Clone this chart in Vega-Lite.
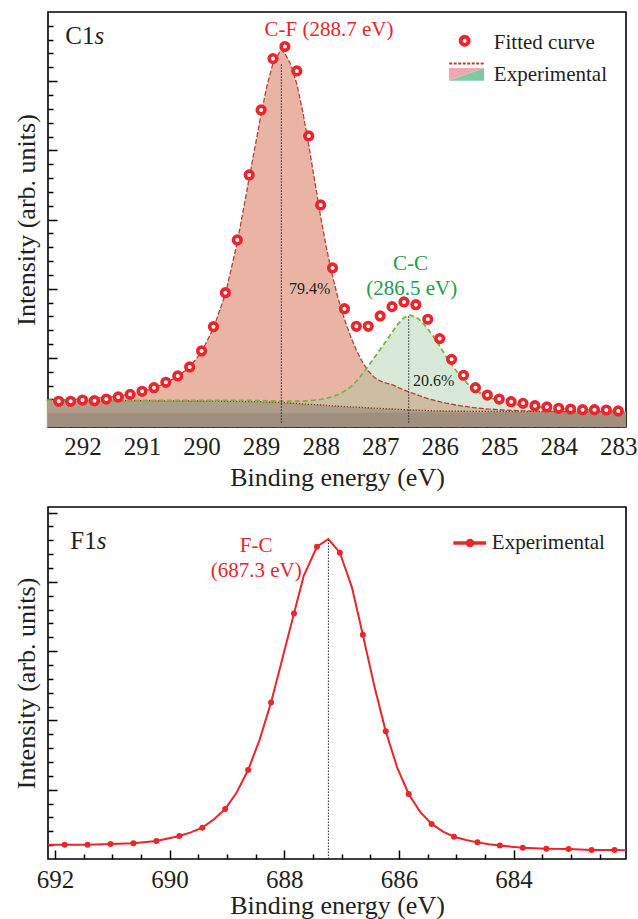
{
"$schema": "https://vega.github.io/schema/vega-lite/v6.json",
"padding": {"left": 12, "top": 11, "right": 0, "bottom": 0},
"spacing": 15,
"config": {
  "view": {"stroke": "#000", "strokeWidth": 1.6},
  "font": "Liberation Serif",
  "axis": {"domain": false, "grid": false, "tickColor": "#000", "tickWidth": 1.5, "labelFont": "Liberation Serif", "titleFont": "Liberation Serif", "labelColor": "#231f20", "titleColor": "#231f20", "titleFontWeight": "normal", "labelFlush": false, "labelOverlap": false},
  "text": {"font": "Liberation Serif"}
},
"datasets": {
  "c1s_points": [
    {"e":292.4,"i":1.86},{"e":292.2,"i":1.86},{"e":292.0,"i":1.95},{"e":291.8,"i":1.90},{"e":291.6,"i":2.02},{"e":291.4,"i":2.17},{"e":291.2,"i":2.36},{"e":291.0,"i":2.58},{"e":290.8,"i":2.84},{"e":290.6,"i":3.23},{"e":290.4,"i":3.69},{"e":290.2,"i":4.34},{"e":290.0,"i":5.50},{"e":289.8,"i":7.25},{"e":289.6,"i":9.71},{"e":289.4,"i":13.52},{"e":289.2,"i":18.22},{"e":289.0,"i":22.92},{"e":288.8,"i":26.63},{"e":288.6,"i":27.50},{"e":288.4,"i":25.74},{"e":288.2,"i":21.04},{"e":288.0,"i":16.05},{"e":287.8,"i":11.50},{"e":287.6,"i":8.55},{"e":287.4,"i":7.28},{"e":287.2,"i":7.28},{"e":287.0,"i":8.03},{"e":286.8,"i":8.70},{"e":286.6,"i":9.04},{"e":286.4,"i":8.84},{"e":286.2,"i":7.79},{"e":286.0,"i":6.39},{"e":285.8,"i":4.89},{"e":285.6,"i":3.74},{"e":285.4,"i":2.84},{"e":285.2,"i":2.31},{"e":285.0,"i":2.02},{"e":284.8,"i":1.83},{"e":284.6,"i":1.71},{"e":284.4,"i":1.54},{"e":284.2,"i":1.45},{"e":284.0,"i":1.35},{"e":283.8,"i":1.30},{"e":283.6,"i":1.25},{"e":283.4,"i":1.25},{"e":283.2,"i":1.23},{"e":283.0,"i":1.16}
  ],
  "c1s_comp": [
    {"e":292.6,"bg":1.92,"cf":1.94,"cc":1.94},{"e":292.4,"bg":1.92,"cf":1.96,"cc":1.94},{"e":292.2,"bg":1.91,"cf":1.99,"cc":1.93},{"e":292.0,"bg":1.91,"cf":2.03,"cc":1.93},{"e":291.8,"bg":1.91,"cf":2.08,"cc":1.93},{"e":291.6,"bg":1.90,"cf":2.15,"cc":1.93},{"e":291.4,"bg":1.90,"cf":2.25,"cc":1.93},{"e":291.2,"bg":1.90,"cf":2.38,"cc":1.93},{"e":291.0,"bg":1.90,"cf":2.56,"cc":1.93},{"e":290.8,"bg":1.90,"cf":2.82,"cc":1.93},{"e":290.6,"bg":1.89,"cf":3.18,"cc":1.93},{"e":290.4,"bg":1.89,"cf":3.66,"cc":1.93},{"e":290.2,"bg":1.88,"cf":4.32,"cc":1.93},{"e":290.0,"bg":1.88,"cf":5.42,"cc":1.93},{"e":289.8,"bg":1.87,"cf":7.15,"cc":1.93},{"e":289.6,"bg":1.86,"cf":9.6,"cc":1.93},{"e":289.4,"bg":1.85,"cf":13.35,"cc":1.93},{"e":289.2,"bg":1.84,"cf":18.0,"cc":1.92},{"e":289.0,"bg":1.83,"cf":22.6,"cc":1.90},{"e":288.9,"bg":1.81,"cf":24.7,"cc":1.89},{"e":288.8,"bg":1.80,"cf":26.3,"cc":1.88},{"e":288.66,"bg":1.77,"cf":27.3,"cc":1.87},{"e":288.6,"bg":1.76,"cf":27.0,"cc":1.86},{"e":288.5,"bg":1.73,"cf":26.2,"cc":1.86},{"e":288.4,"bg":1.70,"cf":24.8,"cc":1.86},{"e":288.3,"bg":1.67,"cf":22.8,"cc":1.87},{"e":288.2,"bg":1.64,"cf":20.4,"cc":1.90},{"e":288.1,"bg":1.62,"cf":17.8,"cc":1.94},{"e":288.0,"bg":1.59,"cf":15.2,"cc":2.00},{"e":287.9,"bg":1.56,"cf":12.9,"cc":2.08},{"e":287.8,"bg":1.53,"cf":10.9,"cc":2.20},{"e":287.7,"bg":1.50,"cf":9.2,"cc":2.36},{"e":287.6,"bg":1.48,"cf":7.8,"cc":2.58},{"e":287.5,"bg":1.45,"cf":6.6,"cc":2.88},{"e":287.4,"bg":1.43,"cf":5.55,"cc":3.30},{"e":287.3,"bg":1.41,"cf":4.7,"cc":3.82},{"e":287.2,"bg":1.39,"cf":4.05,"cc":4.40},{"e":287.1,"bg":1.36,"cf":3.6,"cc":5.00},{"e":287.0,"bg":1.34,"cf":3.33,"cc":5.60},{"e":286.9,"bg":1.32,"cf":3.18,"cc":6.20},{"e":286.8,"bg":1.30,"cf":3.06,"cc":6.85},{"e":286.7,"bg":1.28,"cf":2.87,"cc":7.45},{"e":286.6,"bg":1.25,"cf":2.68,"cc":7.90},{"e":286.5,"bg":1.23,"cf":2.51,"cc":8.08},{"e":286.4,"bg":1.22,"cf":2.36,"cc":7.95},{"e":286.3,"bg":1.20,"cf":2.20,"cc":7.60},{"e":286.2,"bg":1.19,"cf":2.06,"cc":7.10},{"e":286.1,"bg":1.17,"cf":1.94,"cc":6.50},{"e":286.0,"bg":1.16,"cf":1.83,"cc":5.85},{"e":285.9,"bg":1.15,"cf":1.73,"cc":5.15},{"e":285.8,"bg":1.15,"cf":1.65,"cc":4.50},{"e":285.7,"bg":1.14,"cf":1.57,"cc":3.95},{"e":285.6,"bg":1.14,"cf":1.51,"cc":3.45},{"e":285.5,"bg":1.13,"cf":1.45,"cc":3.00},{"e":285.4,"bg":1.13,"cf":1.39,"cc":2.66},{"e":285.2,"bg":1.12,"cf":1.31,"cc":2.17},{"e":285.0,"bg":1.12,"cf":1.25,"cc":1.88},{"e":284.8,"bg":1.12,"cf":1.20,"cc":1.70},{"e":284.6,"bg":1.11,"cf":1.17,"cc":1.57},{"e":284.4,"bg":1.11,"cf":1.15,"cc":1.47},{"e":284.2,"bg":1.11,"cf":1.13,"cc":1.40},{"e":284.0,"bg":1.11,"cf":1.12,"cc":1.34},{"e":283.8,"bg":1.11,"cf":1.12,"cc":1.30},{"e":283.6,"bg":1.11,"cf":1.11,"cc":1.26},{"e":283.4,"bg":1.11,"cf":1.11,"cc":1.23},{"e":283.2,"bg":1.11,"cf":1.11,"cc":1.20},{"e":283.0,"bg":1.11,"cf":1.11,"cc":1.17},{"e":282.87,"bg":1.11,"cf":1.11,"cc":1.16}
  ],
  "f1s_points": [
    {"e":691.83,"i":1.03},{"e":691.43,"i":1.03},{"e":691.03,"i":1.08},{"e":690.63,"i":1.13},{"e":690.23,"i":1.30},{"e":689.83,"i":1.66},{"e":689.43,"i":2.26},{"e":689.03,"i":3.61},{"e":688.63,"i":6.42},{"e":688.23,"i":11.30},{"e":687.83,"i":17.72},{"e":687.43,"i":22.53},{"e":687.03,"i":22.10},{"e":686.63,"i":16.18},{"e":686.23,"i":9.21},{"e":685.83,"i":4.69},{"e":685.43,"i":2.53},{"e":685.04,"i":1.61},{"e":684.63,"i":1.20},{"e":684.24,"i":0.98},{"e":683.84,"i":0.82},{"e":683.43,"i":0.74},{"e":683.04,"i":0.72},{"e":682.64,"i":0.65},{"e":682.24,"i":0.65}
  ],
  "f1s_line": [
    {"e":692.12,"i":1.03},{"e":691.83,"i":1.03},{"e":691.43,"i":1.03},{"e":691.03,"i":1.08},{"e":690.63,"i":1.13},{"e":690.23,"i":1.30},{"e":689.83,"i":1.66},{"e":689.63,"i":1.92},{"e":689.43,"i":2.26},{"e":689.23,"i":2.85},{"e":689.03,"i":3.61},{"e":688.83,"i":4.8},{"e":688.63,"i":6.42},{"e":688.43,"i":8.6},{"e":688.23,"i":11.30},{"e":688.03,"i":14.5},{"e":687.83,"i":17.72},{"e":687.66,"i":20.44},{"e":687.43,"i":22.53},{"e":687.23,"i":23.09},{"e":687.03,"i":22.10},{"e":686.82,"i":19.6},{"e":686.63,"i":16.18},{"e":686.43,"i":12.5},{"e":686.23,"i":9.21},{"e":686.03,"i":6.6},{"e":685.83,"i":4.69},{"e":685.63,"i":3.40},{"e":685.43,"i":2.53},{"e":685.23,"i":1.97},{"e":685.04,"i":1.61},{"e":684.83,"i":1.37},{"e":684.63,"i":1.20},{"e":684.43,"i":1.07},{"e":684.24,"i":0.98},{"e":684.04,"i":0.89},{"e":683.84,"i":0.82},{"e":683.43,"i":0.74},{"e":683.04,"i":0.72},{"e":682.64,"i":0.65},{"e":682.24,"i":0.65},{"e":682.04,"i":0.64}
  ]
},
"vconcat": [
  {
    "width": 578, "height": 415,
    "resolve": {"axis": {"x": "independent", "y": "independent"}},
    "layer": [
      {"data": {"name": "c1s_comp"}, "mark": {"type": "area", "color": "#ad9e8b", "opacity": 1},
       "encoding": {
         "x": {"field": "e", "type": "quantitative", "scale": {"domain": [292.58, 282.87], "nice": false, "zero": false},
               "axis": {"orient": "bottom", "values": [292,291,290,289,288,287,286,285,284,283], "tickSize": -9, "labelFont": "Liberation Serif", "labelFontSize": 25, "labelPadding": 16, "title": "Binding energy (eV)", "titleFont": "Liberation Serif", "titleFontSize": 26, "titleFontWeight": "normal", "titlePadding": 5}},
         "y": {"field": "bg", "type": "quantitative", "scale": {"domain": [0, 30], "nice": false},
               "axis": {"orient": "left", "values": [5,10,15,20,25], "tickSize": -9, "labels": false, "title": "Intensity (arb. units)", "titleFont": "Liberation Serif", "titleFontSize": 26, "titleFontWeight": "normal", "titlePadding": 8}},
         "y2": {"datum": 0}}},
      {"data": {"values": [{}]}, "mark": {"type": "rect", "color": "#a08f7f"},
       "encoding": {
         "x": {"datum": 292.58, "type": "quantitative", "scale": {"domain": [292.58, 282.87], "nice": false, "zero": false}, "axis": null},
         "x2": {"datum": 282.87},
         "y": {"datum": 0, "type": "quantitative", "scale": {"domain": [0, 30], "nice": false}, "axis": null},
         "y2": {"datum": 1.03}}},
      {"data": {"name": "c1s_comp"}, "mark": {"type": "area", "color": "#eab4a4", "opacity": 1},
       "encoding": {
         "x": {"field": "e", "type": "quantitative", "scale": {"domain": [292.58, 282.87], "nice": false, "zero": false},
               "axis": {"orient": "bottom", "values": [292.4,292.2,291.8,291.6,291.4,291.2,290.8,290.6,290.4,290.2,289.8,289.6,289.4,289.2,288.8,288.6,288.4,288.2,287.8,287.6,287.4,287.2,286.8,286.6,286.4,286.2,285.8,285.6,285.4,285.2,284.8,284.6,284.4,284.2,283.8,283.6,283.4,283.2], "tickSize": -5, "labels": false, "title": null}},
         "y": {"field": "cf", "type": "quantitative", "scale": {"domain": [0, 30], "nice": false},
               "axis": {"orient": "left", "values": [1,2,3,4,6,7,8,9,11,12,13,14,16,17,18,19,21,22,23,24,26,27,28,29], "tickSize": -5, "labels": false, "title": null}},
         "y2": {"field": "bg"}}},
      {"data": {"name": "c1s_comp"}, "mark": {"type": "area", "color": "#a0c8a0", "opacity": 0.42},
       "encoding": {
         "x": {"field": "e", "type": "quantitative", "scale": {"domain": [292.58, 282.87], "nice": false, "zero": false}, "axis": null},
         "y": {"field": "cc", "type": "quantitative", "scale": {"domain": [0, 30], "nice": false}, "axis": null},
         "y2": {"field": "bg"}}},
      {"data": {"name": "c1s_comp"}, "mark": {"type": "line", "color": "#8b3a1a", "strokeWidth": 1.3, "strokeDash": [1.5, 1.5]},
       "encoding": {
         "x": {"field": "e", "type": "quantitative", "scale": {"domain": [292.58, 282.87], "nice": false, "zero": false}, "axis": null},
         "y": {"field": "bg", "type": "quantitative", "scale": {"domain": [0, 30], "nice": false}, "axis": null}}},
      {"data": {"name": "c1s_comp"}, "mark": {"type": "line", "color": "#b5413a", "strokeWidth": 1.3, "strokeDash": [5, 2]},
       "encoding": {
         "x": {"field": "e", "type": "quantitative", "scale": {"domain": [292.58, 282.87], "nice": false, "zero": false}, "axis": null},
         "y": {"field": "cf", "type": "quantitative", "scale": {"domain": [0, 30], "nice": false}, "axis": null}}},
      {"data": {"name": "c1s_comp"}, "mark": {"type": "line", "color": "#7cb342", "strokeWidth": 1.8, "strokeDash": [5, 3]},
       "encoding": {
         "x": {"field": "e", "type": "quantitative", "scale": {"domain": [292.58, 282.87], "nice": false, "zero": false}, "axis": null},
         "y": {"field": "cc", "type": "quantitative", "scale": {"domain": [0, 30], "nice": false}, "axis": null}}},
      {"data": {"values": [{}]}, "mark": {"type": "rule", "color": "#222", "strokeWidth": 1, "strokeDash": [1.5, 1.5]},
       "encoding": {
         "x": {"datum": 288.66, "type": "quantitative", "scale": {"domain": [292.58, 282.87], "nice": false, "zero": false}, "axis": null},
         "y": {"datum": 0.3, "type": "quantitative", "scale": {"domain": [0, 30], "nice": false}, "axis": null},
         "y2": {"datum": 26.3}}},
      {"data": {"values": [{}]}, "mark": {"type": "rule", "color": "#222", "strokeWidth": 1, "strokeDash": [1.5, 1.5]},
       "encoding": {
         "x": {"datum": 286.52, "type": "quantitative", "scale": {"domain": [292.58, 282.87], "nice": false, "zero": false}, "axis": null},
         "y": {"datum": 0.3, "type": "quantitative", "scale": {"domain": [0, 30], "nice": false}, "axis": null},
         "y2": {"datum": 8.0}}},
      {"data": {"name": "c1s_points"}, "mark": {"type": "point", "shape": "circle", "filled": false, "fill": "#ffffff", "fillOpacity": 1, "stroke": "#e8262b", "strokeWidth": 3.6, "size": 58, "opacity": 1},
       "encoding": {
         "x": {"field": "e", "type": "quantitative", "scale": {"domain": [292.58, 282.87], "nice": false, "zero": false}, "axis": null},
         "y": {"field": "i", "type": "quantitative", "scale": {"domain": [0, 30], "nice": false}, "axis": null}}},
      {"data": {"values": [{}]}, "mark": {"type": "point", "shape": "circle", "filled": false, "fill": "#ffffff", "fillOpacity": 1, "stroke": "#e8262b", "strokeWidth": 4, "size": 64, "opacity": 1},
       "encoding": {
         "x": {"datum": 285.58, "type": "quantitative", "scale": {"domain": [292.58, 282.87], "nice": false, "zero": false}, "axis": null},
         "y": {"datum": 27.93, "type": "quantitative", "scale": {"domain": [0, 30], "nice": false}, "axis": null}}},
      {"data": {"values": [{}]}, "mark": {"type": "rule", "color": "#c0392b", "strokeWidth": 2, "strokeDash": [3, 1.5]},
       "encoding": {
         "x": {"datum": 285.84, "type": "quantitative", "scale": {"domain": [292.58, 282.87], "nice": false, "zero": false}, "axis": null},
         "x2": {"datum": 285.25},
         "y": {"datum": 26.28, "type": "quantitative", "scale": {"domain": [0, 30], "nice": false}, "axis": null}}},
      {"data": {"values": [{}]}, "mark": {"type": "point", "shape": "M-1,-0.37L1,-0.37L-1,0.37Z", "filled": true, "color": "#efa7b0", "opacity": 1, "size": 1225, "strokeWidth": 0},
       "encoding": {
         "x": {"datum": 285.55, "type": "quantitative", "scale": {"domain": [292.58, 282.87], "nice": false, "zero": false}, "axis": null},
         "y": {"datum": 25.49, "type": "quantitative", "scale": {"domain": [0, 30], "nice": false}, "axis": null}}},
      {"data": {"values": [{}]}, "mark": {"type": "point", "shape": "M-1,0.37L1,-0.37L1,0.37Z", "filled": true, "color": "#7fcaa0", "opacity": 1, "size": 1225, "strokeWidth": 0},
       "encoding": {
         "x": {"datum": 285.55, "type": "quantitative", "scale": {"domain": [292.58, 282.87], "nice": false, "zero": false}, "axis": null},
         "y": {"datum": 25.49, "type": "quantitative", "scale": {"domain": [0, 30], "nice": false}, "axis": null}}},
      {"data": {"values": [{"t": "Fitted curve", "x": 285.09, "y": 27.35}, {"t": "Experimental", "x": 285.09, "y": 25.02}]},
       "mark": {"type": "text", "font": "Liberation Serif", "fontSize": 21, "color": "#231f20", "align": "left", "baseline": "alphabetic"},
       "encoding": {
         "x": {"field": "x", "type": "quantitative", "scale": {"domain": [292.58, 282.87], "nice": false, "zero": false}, "axis": null},
         "y": {"field": "y", "type": "quantitative", "scale": {"domain": [0, 30], "nice": false}, "axis": null},
         "text": {"field": "t"}}},
      {"data": {"values": [{"t": "C-F (288.7 eV)", "x": 287.86, "y": 28.27}]},
       "mark": {"type": "text", "font": "Liberation Serif", "fontSize": 21, "color": "#e8262b", "align": "center", "baseline": "alphabetic"},
       "encoding": {
         "x": {"field": "x", "type": "quantitative", "scale": {"domain": [292.58, 282.87], "nice": false, "zero": false}, "axis": null},
         "y": {"field": "y", "type": "quantitative", "scale": {"domain": [0, 30], "nice": false}, "axis": null},
         "text": {"field": "t"}}},
      {"data": {"values": [{"t": "C-C", "x": 286.49, "y": 11.32}, {"t": "(286.5 eV)", "x": 286.47, "y": 9.54}]},
       "mark": {"type": "text", "font": "Liberation Serif", "fontSize": 21, "color": "#1e9b4b", "align": "center", "baseline": "alphabetic"},
       "encoding": {
         "x": {"field": "x", "type": "quantitative", "scale": {"domain": [292.58, 282.87], "nice": false, "zero": false}, "axis": null},
         "y": {"field": "y", "type": "quantitative", "scale": {"domain": [0, 30], "nice": false}, "axis": null},
         "text": {"field": "t"}}},
      {"data": {"values": [{"t": "79.4%", "x": 288.53, "y": 9.6}, {"t": "20.6%", "x": 286.45, "y": 2.99}]},
       "mark": {"type": "text", "font": "Liberation Serif", "fontSize": 16, "color": "#231f20", "align": "left", "baseline": "alphabetic"},
       "encoding": {
         "x": {"field": "x", "type": "quantitative", "scale": {"domain": [292.58, 282.87], "nice": false, "zero": false}, "axis": null},
         "y": {"field": "y", "type": "quantitative", "scale": {"domain": [0, 30], "nice": false}, "axis": null},
         "text": {"field": "t"}}},
      {"data": {"values": [{"t": "C1", "x": 292.29, "y": 27.67}]},
       "mark": {"type": "text", "font": "Liberation Serif", "fontSize": 25, "color": "#231f20", "align": "left", "baseline": "alphabetic"},
       "encoding": {
         "x": {"field": "x", "type": "quantitative", "scale": {"domain": [292.58, 282.87], "nice": false, "zero": false}, "axis": null},
         "y": {"field": "y", "type": "quantitative", "scale": {"domain": [0, 30], "nice": false}, "axis": null},
         "text": {"field": "t"}}},
      {"data": {"values": [{"t": "s", "x": 291.80, "y": 27.67}]},
       "mark": {"type": "text", "font": "Liberation Serif", "fontSize": 25, "fontStyle": "italic", "color": "#231f20", "align": "left", "baseline": "alphabetic"},
       "encoding": {
         "x": {"field": "x", "type": "quantitative", "scale": {"domain": [292.58, 282.87], "nice": false, "zero": false}, "axis": null},
         "y": {"field": "y", "type": "quantitative", "scale": {"domain": [0, 30], "nice": false}, "axis": null},
         "text": {"field": "t"}}}
    ]
  },
  {
    "width": 578, "height": 352,
    "resolve": {"axis": {"x": "independent", "y": "independent"}},
    "layer": [
      {"data": {"name": "f1s_line"}, "mark": {"type": "line", "color": "#e8262b", "strokeWidth": 2, "clip": true},
       "encoding": {
         "x": {"field": "e", "type": "quantitative", "scale": {"domain": [692.12, 682.04], "nice": false, "zero": false},
               "axis": {"orient": "bottom", "values": [692,690,688,686,684], "tickSize": -9, "labelFont": "Liberation Serif", "labelFontSize": 25, "labelPadding": 17, "title": "Binding energy (eV)", "titleFont": "Liberation Serif", "titleFontSize": 26, "titleFontWeight": "normal", "titlePadding": 0}},
         "y": {"field": "i", "type": "quantitative", "scale": {"domain": [0, 25.4], "nice": false},
               "axis": {"orient": "left", "values": [5,10,15,20,25], "tickSize": -9, "labels": false, "title": "Intensity (arb. units)", "titleFont": "Liberation Serif", "titleFontSize": 26, "titleFontWeight": "normal", "titlePadding": 8}}}},
      {"data": {"name": "f1s_points"}, "mark": {"type": "point", "shape": "circle", "filled": true, "color": "#e8262b", "opacity": 1, "size": 36},
       "encoding": {
         "x": {"field": "e", "type": "quantitative", "scale": {"domain": [692.12, 682.04], "nice": false, "zero": false},
               "axis": {"orient": "bottom", "values": [691.5,691,690.5,689.5,689,688.5,687.5,687,686.5,685.5,685,684.5,683.5,683,682.5], "tickSize": -5, "labels": false, "title": null}},
         "y": {"field": "i", "type": "quantitative", "scale": {"domain": [0, 25.4], "nice": false},
               "axis": {"orient": "left", "values": [1,2,3,4,6,7,8,9,11,12,13,14,16,17,18,19,21,22,23,24], "tickSize": -5, "labels": false, "title": null}}}},
      {"data": {"values": [{}]}, "mark": {"type": "rule", "color": "#222", "strokeWidth": 1, "strokeDash": [1.5, 1.5]},
       "encoding": {
         "x": {"datum": 687.23, "type": "quantitative", "scale": {"domain": [692.12, 682.04], "nice": false, "zero": false}, "axis": null},
         "y": {"datum": 0, "type": "quantitative", "scale": {"domain": [0, 25.4], "nice": false}, "axis": null},
         "y2": {"datum": 23.0}}},
      {"data": {"values": [{}]}, "mark": {"type": "rule", "color": "#e8262b", "strokeWidth": 3.5},
       "encoding": {
         "x": {"datum": 685.05, "type": "quantitative", "scale": {"domain": [692.12, 682.04], "nice": false, "zero": false}, "axis": null},
         "x2": {"datum": 684.48},
         "y": {"datum": 22.8, "type": "quantitative", "scale": {"domain": [0, 25.4], "nice": false}, "axis": null}}},
      {"data": {"values": [{}]}, "mark": {"type": "point", "shape": "circle", "filled": true, "color": "#e8262b", "opacity": 1, "size": 75},
       "encoding": {
         "x": {"datum": 684.76, "type": "quantitative", "scale": {"domain": [692.12, 682.04], "nice": false, "zero": false}, "axis": null},
         "y": {"datum": 22.8, "type": "quantitative", "scale": {"domain": [0, 25.4], "nice": false}, "axis": null}}},
      {"data": {"values": [{"t": "Experimental", "x": 684.38, "y": 22.37}]},
       "mark": {"type": "text", "font": "Liberation Serif", "fontSize": 21, "color": "#231f20", "align": "left", "baseline": "alphabetic"},
       "encoding": {
         "x": {"field": "x", "type": "quantitative", "scale": {"domain": [692.12, 682.04], "nice": false, "zero": false}, "axis": null},
         "y": {"field": "y", "type": "quantitative", "scale": {"domain": [0, 25.4], "nice": false}, "axis": null},
         "text": {"field": "t"}}},
      {"data": {"values": [{"t": "F-C", "x": 688.49, "y": 22.12}, {"t": "(687.3 eV)", "x": 688.49, "y": 20.33}]},
       "mark": {"type": "text", "font": "Liberation Serif", "fontSize": 21, "color": "#e8262b", "align": "center", "baseline": "alphabetic"},
       "encoding": {
         "x": {"field": "x", "type": "quantitative", "scale": {"domain": [692.12, 682.04], "nice": false, "zero": false}, "axis": null},
         "y": {"field": "y", "type": "quantitative", "scale": {"domain": [0, 25.4], "nice": false}, "axis": null},
         "text": {"field": "t"}}},
      {"data": {"values": [{"t": "F1", "x": 691.73, "y": 22.37}]},
       "mark": {"type": "text", "font": "Liberation Serif", "fontSize": 25, "color": "#231f20", "align": "left", "baseline": "alphabetic"},
       "encoding": {
         "x": {"field": "x", "type": "quantitative", "scale": {"domain": [692.12, 682.04], "nice": false, "zero": false}, "axis": null},
         "y": {"field": "y", "type": "quantitative", "scale": {"domain": [0, 25.4], "nice": false}, "axis": null},
         "text": {"field": "t"}}},
      {"data": {"values": [{"t": "s", "x": 691.27, "y": 22.37}]},
       "mark": {"type": "text", "font": "Liberation Serif", "fontSize": 25, "fontStyle": "italic", "color": "#231f20", "align": "left", "baseline": "alphabetic"},
       "encoding": {
         "x": {"field": "x", "type": "quantitative", "scale": {"domain": [692.12, 682.04], "nice": false, "zero": false}, "axis": null},
         "y": {"field": "y", "type": "quantitative", "scale": {"domain": [0, 25.4], "nice": false}, "axis": null},
         "text": {"field": "t"}}}
    ]
  }
]
}
